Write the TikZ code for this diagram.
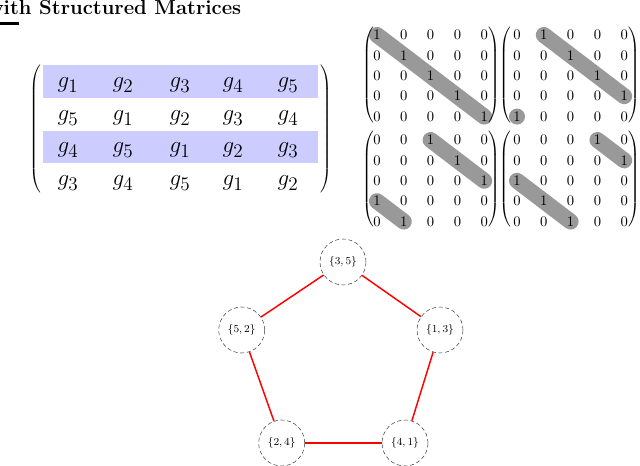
\documentclass[tikz,border=0pt]{standalone}
\usetikzlibrary{backgrounds}
\begin{document}
\begin{tikzpicture}[x=0.75pt,y=-0.75pt]
	\tikzset{
		band/.style={fill=blue!20,draw=none},
		bigentry/.style={inner sep=0pt,font=\fontsize{19}{22}\selectfont},
		entry/.style={inner sep=0pt,font=\fontsize{11}{13}\selectfont},
		delim/.style={inner sep=0pt},
		hilite/.style={line width=12pt,line cap=round,black!40},
		setnode/.style={circle,draw=black!75,densely dashed,minimum size=34.5pt,inner sep=0pt,font=\fontsize{8.5}{10}\selectfont},
		cycleedge/.style={red,line width=1.1pt}
	}
	\useasboundingbox (0,0) rectangle (640,466);
	% title
	\node [anchor=base west,inner sep=0pt,font=\fontsize{15.2}{18}\selectfont\bfseries] (title) at (-13,15) {with Structured Matrices};
	\fill [black] (0,22.5) rectangle (18.5,25.5);
	% block circulant matrix
	\fill [band] (43,65) rectangle (318,98);
	\fill [band] (43,131) rectangle (318,163);
	\foreach \r/\y in {1/85,2/118,3/150,4/183}
		\foreach \c/\x in {1/68,2/123,3/180,4/233,5/288} {
			\pgfmathtruncatemacro{\k}{mod(\c-\r+5,5)+1}
			\node [bigentry] (g-\r-\c) at (\x,\y) {$g_{\k}$};
		}
	\node [delim] (bigl) at (36,130) {$\left(\vrule height 47pt depth 47pt width 0pt\right.$};
	\node [delim] (bigr) at (326,130) {$\left.\vrule height 47pt depth 47pt width 0pt\right)$};
	% permutation blocks
	\foreach \m/\s/\ox/\oy in {a/0/377/35,b/1/517/35,c/2/377/140,d/3/517/140}
		\foreach \i in {1,...,5}
			\foreach \j in {1,...,5} {
				\pgfmathtruncatemacro{\v}{mod(\j-\i+5,5)==\s}
				\node [entry] (\m-\i-\j) at ({\ox+26.8*(\j-1)},{\oy+20.4*(\i-1)}) {$\v$};
			}
	\foreach \m/\lx/\rx/\cy in {a/369/494/76,b/506/634/76,c/369/494/180,d/506/634/180} {
		\node [delim] (\m-l) at (\lx,\cy) {$\left(\vrule height 35pt depth 35pt width 0pt\right.$};
		\node [delim] (\m-r) at (\rx,\cy) {$\left.\vrule height 35pt depth 35pt width 0pt\right)$};
	}
	\begin{scope}[on background layer]
		\draw [hilite] (a-1-1.center) -- (a-5-5.center);
		\draw [hilite] (b-1-2.center) -- (b-4-5.center);
		\fill [black!40] (b-5-1.center) circle (6pt);
		\draw [hilite] (c-1-3.center) -- (c-3-5.center);
		\draw [hilite] (c-4-1.center) -- (c-5-2.center);
		\draw [hilite] (d-1-4.center) -- (d-2-5.center);
		\draw [hilite] (d-3-1.center) -- (d-5-3.center);
	\end{scope}
	% cycle graph
	\node [setnode] (s35) at (343,262) {$\{3,5\}$};
	\node [setnode] (s52) at (241.7,330) {$\{5,2\}$};
	\node [setnode] (s13) at (440,330) {$\{1,3\}$};
	\node [setnode] (s24) at (281.7,443) {$\{2,4\}$};
	\node [setnode] (s41) at (405,443) {$\{4,1\}$};
	\draw [cycleedge] (s35) -- (s52);
	\draw [cycleedge] (s35) -- (s13);
	\draw [cycleedge] (s52) -- (s24);
	\draw [cycleedge] (s13) -- (s41);
	\draw [cycleedge] (s24) -- (s41);
\end{tikzpicture}
\end{document}
